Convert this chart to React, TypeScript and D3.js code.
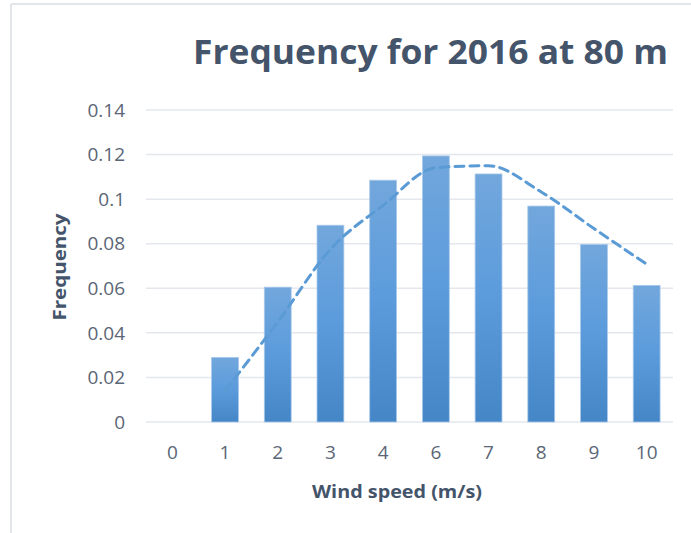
import React from "react";
import * as d3 from "d3";

// Wind speed bins (m/s) and the observed frequency in each bin
const categories = ["0", "1", "2", "3", "4", "6", "7", "8", "9", "10"];
const frequency = [0, 0.029, 0.0605, 0.0883, 0.1085, 0.1194, 0.1113, 0.0969, 0.0797, 0.0613];
// Fitted distribution (dashed curve), no value for the 0 bin
const fitted: (number | null)[] = [null, 0.014, 0.0449, 0.0775, 0.0972, 0.1141, 0.115, 0.1032, 0.0868, 0.0708];
const yTicks = [0, 0.02, 0.04, 0.06, 0.08, 0.1, 0.12, 0.14];
const yTickLabels = ["0", "0.02", "0.04", "0.06", "0.08", "0.1", "0.12", "0.14"];

const W = 691;
const H = 533;
const plot = { left: 146, right: 673, top: 110, bottom: 422 };

const FONT = "'Open Sans', 'Noto Sans', sans-serif";
const TEXT = "#5b6676";
const TITLE = "#44546a";

export default function App() {
  const x = d3
    .scaleBand<string>()
    .domain(categories)
    .range([plot.left, plot.right])
    .paddingInner(0.49)
    .paddingOuter(0.245);
  const xp = d3
    .scalePoint<string>()
    .domain(categories)
    .range([plot.left, plot.right])
    .padding(0.5);
  const y = d3.scaleLinear().domain([0, 0.14]).range([plot.bottom, plot.top]);

  const linePts = categories
    .map((c, i) => ({ c, v: fitted[i] }))
    .filter((d) => d.v !== null) as { c: string; v: number }[];
  const lineGen = d3
    .line<{ c: string; v: number }>()
    .x((d) => xp(d.c) as number)
    .y((d) => y(d.v))
    .curve(d3.curveMonotoneX);

  return (
    <svg
      width={W}
      height={H}
      style={{ position: "absolute", left: 0, top: 0, background: "#fff" }}
    >
      <defs>
        <linearGradient id="barFill" x1="0" y1="0" x2="0" y2="1">
          <stop offset="0%" stopColor="#72a7dc" />
          <stop offset="50%" stopColor="#5b9bdc" />
          <stop offset="100%" stopColor="#4586c7" />
        </linearGradient>
      </defs>

      {/* chart frame */}
      <line x1={11} y1={4} x2={W} y2={4} stroke="#e2e6eb" strokeWidth={2} />
      <line x1={11} y1={4} x2={11} y2={H} stroke="#e2e6eb" strokeWidth={2} />

      {/* title */}
      <text
        x={193}
        y={64}
        fontFamily={FONT}
        fontWeight={700}
        fontSize={34}
        fill={TITLE}
        textLength={475}
        lengthAdjust="spacingAndGlyphs"
      >
        Frequency for 2016 at 80 m
      </text>

      {/* gridlines and y tick labels */}
      {yTicks.map((t, i) => (
        <g key={t}>
          <line
            x1={plot.left}
            x2={plot.right}
            y1={y(t)}
            y2={y(t)}
            stroke="#e4e8ed"
            strokeWidth={1.5}
          />
          <text
            x={125}
            y={y(t)}
            dy="0.35em"
            textAnchor="end"
            fontFamily={FONT}
            fontSize={19}
            fill={TEXT}
          >
            {yTickLabels[i]}
          </text>
        </g>
      ))}

      {/* bars */}
      {categories.map((c, i) =>
        frequency[i] > 0 ? (
          <rect
            key={c}
            x={x(c)}
            y={y(frequency[i])}
            width={x.bandwidth()}
            height={y(0) - y(frequency[i])}
            fill="url(#barFill)"
            stroke="#a9c9ea"
            strokeWidth={0.8}
          />
        ) : null
      )}

      {/* fitted curve */}
      <path
        d={lineGen(linePts) || ""}
        fill="none"
        stroke="#5b9bd5"
        strokeWidth={3}
        strokeDasharray="9 6"
        strokeLinecap="round"
      />

      {/* x tick labels */}
      {categories.map((c) => (
        <text
          key={c}
          x={xp(c)}
          y={452}
          dy="0.35em"
          textAnchor="middle"
          fontFamily={FONT}
          fontSize={19}
          fill={TEXT}
        >
          {c}
        </text>
      ))}

      {/* axis titles */}
      <text
        x={397}
        y={492}
        dy="0.35em"
        textAnchor="middle"
        fontFamily={FONT}
        fontWeight={700}
        fontSize={18}
        fill={TITLE}
        textLength={170}
        lengthAdjust="spacingAndGlyphs"
      >
        Wind speed (m/s)
      </text>
      <text
        transform={`translate(60, 267) rotate(-90)`}
        dy="0.35em"
        textAnchor="middle"
        fontFamily={FONT}
        fontWeight={700}
        fontSize={18}
        fill={TITLE}
        textLength={107}
        lengthAdjust="spacingAndGlyphs"
      >
        Frequency
      </text>
    </svg>
  );
}
